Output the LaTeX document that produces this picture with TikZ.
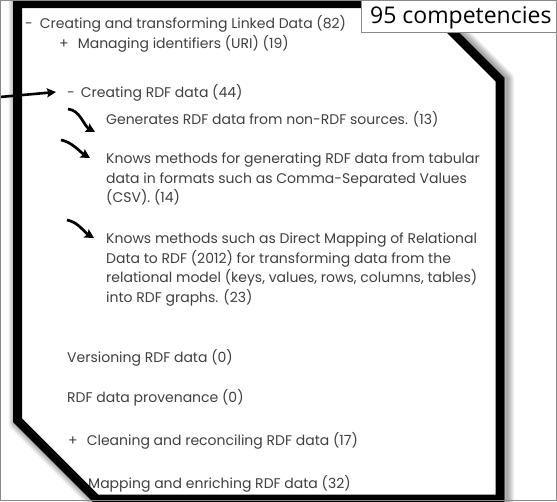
\documentclass[tikz,border=0pt]{standalone}
\usepackage{fontspec}
\usetikzlibrary{arrows.meta}
\newfontfamily\itemfont{Poppins}
\newfontfamily\tagfont{Open Sans}
\definecolor{inkgray}{HTML}{404040}
\definecolor{framegray}{HTML}{8A8A8A}

\tikzset{
  itemtext/.style={anchor=base west, inner sep=0pt, text=inkgray,
    font=\itemfont\fontsize{14}{16}\selectfont},
  glow/.style={line width=#1, draw=black, draw opacity=0.055, line join=round},
  pointer/.style={line width=2.6pt, -{Stealth[length=9pt,width=9pt,inset=1.5pt]}},
  hook/.style={line width=2.7pt, -{Stealth[length=9pt,width=9.5pt,inset=1.5pt]}},
}

\begin{document}
\begin{tikzpicture}[x=1pt, y=-1pt]
  \fill[white] (0,0) rectangle (557,501);
  \useasboundingbox (0,0) rectangle (557,501);

  % outer and inner contour of the thick frame
  \def\outerrim{(13,-1) -- (425.9,-1) -- (504.5,77.6) -- (504.5,503.5) -- (94.4,503.5) -- (13,422.1) -- cycle}
  \def\innerrim{(22,8) -- (422.1,8) -- (495.5,81.4) -- (495.5,494.5) -- (98.1,494.5) -- (22,418.4) -- cycle}

  % soft shadow around the frame, cast slightly to the right
  \foreach \w in {2,4,6,8,10,12,14} {
    \draw[glow=\w pt, xshift=2.5pt, yshift=-1pt] \outerrim;
  }
  \fill[white] \outerrim;

  % tree of competencies
  \node[itemtext] (l1) at (25,28) {-\hspace{7pt}Creating and transforming Linked Data (82)};
  \node[itemtext] (l2) at (59,48) {+\hspace{9pt}Managing identifiers (URI) (19)};
  \node[itemtext] (l3) at (67,97) {-\hspace{6pt}Creating RDF data (44)};
  \node[itemtext] (l4) at (106,124) {Generates RDF data from non-RDF sources. (13)};
  \node[itemtext] (l5a) at (106,163) {Knows methods for generating RDF data from tabular};
  \node[itemtext] (l5b) at (106,183) {data in formats such as Comma-Separated Values};
  \node[itemtext] (l5c) at (106,202) {(CSV). (14)};
  \node[itemtext] (l6a) at (106,243) {Knows methods such as Direct Mapping of Relational};
  \node[itemtext] (l6b) at (106,263) {Data to RDF (2012) for transforming data from the};
  \node[itemtext] (l6c) at (106,282) {relational model (keys, values, rows, columns, tables)};
  \node[itemtext] (l6d) at (106,302) {into RDF graphs. (23)};
  \node[itemtext] (l7) at (67,362) {Versioning RDF data (0)};
  \node[itemtext] (l8) at (67,402) {RDF data provenance (0)};
  \node[itemtext] (l9) at (68,445) {+\hspace{9pt}Cleaning and reconciling RDF data (17)};
  \node[itemtext] (l10) at (88,488) {Mapping and enriching RDF data (32)};

  % the thick black frame as a ring
  \fill[black, even odd rule] \outerrim \innerrim;

  % counter tag
  \node[draw=framegray, fill=white, line width=0.8pt, minimum width=200pt,
        minimum height=34pt, anchor=north west, inner sep=0pt] (tag) at (361,-2) {};
  \node[anchor=base west, inner sep=0pt, font=\tagfont\fontsize{23}{26}\selectfont]
        (tagtext) at (370,23) {95 competencies};

  % pointer to the opened branch
  \coordinate (src) at (0,97);
  \draw[pointer] (src) -- ([xshift=-11pt,yshift=5pt]l3.base west);

  % hooked arrows in front of the leaves
  \coordinate (h1) at (68,109);
  \coordinate (h2) at (61,140);
  \coordinate (h3) at (67,220);
  \draw[hook] (h1) .. controls +(12,1) and +(-11,-6) .. ([xshift=-11pt,yshift=-8pt]l4.base west);
  \draw[hook] (h2) .. controls +(11,2) and +(-10,-6) .. ([xshift=-16pt,yshift=5pt]l5a.base west);
  \draw[hook] (h3) .. controls +(11,2) and +(-10,-6) .. ([xshift=-12pt,yshift=5pt]l6a.base west);

  % thin edge of the screenshot window
  \draw[framegray, line width=0.8pt] (0.4,0.4) rectangle (556.6,500.6);
\end{tikzpicture}
\end{document}
